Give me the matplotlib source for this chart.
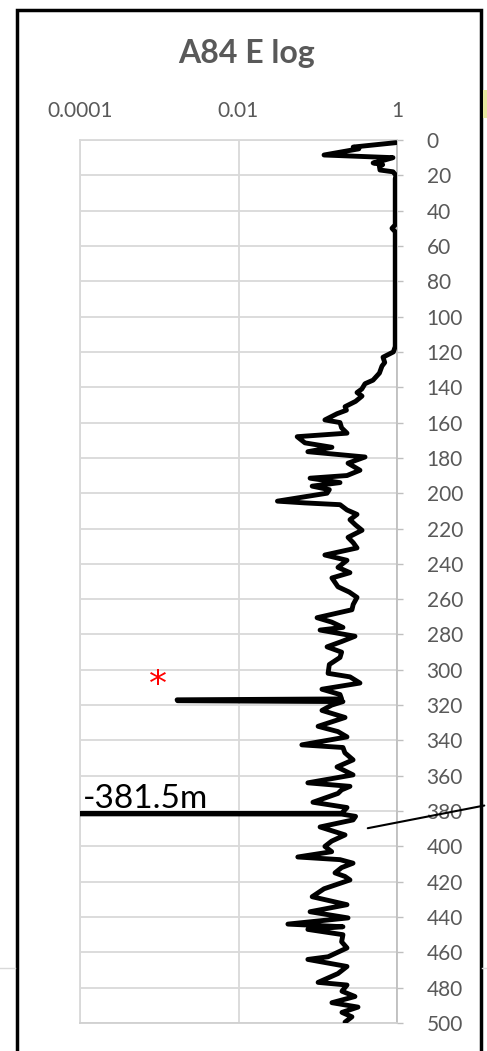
import matplotlib
matplotlib.use("Agg")
import matplotlib.pyplot as plt
from matplotlib.lines import Line2D
from matplotlib.patches import Rectangle

plt.rcParams['font.family'] = ['Lato', 'DejaVu Sans']

# E log trace, depth (m) vs value
depth = [1.5, 4, 5, 8.5, 9.5, 10, 12, 13, 14, 15, 17, 18, 20, 22,
         48, 50, 52, 117, 120, 123, 126, 128, 132, 136, 138, 141, 143, 145,
         148, 151, 153, 155, 158.5, 160, 163, 166, 168, 171.5, 174, 176.5,
         179.5, 183, 187, 190, 191.5, 194, 196, 198, 200, 204.5, 205.5, 206.5,
         209.5, 212, 215, 218, 221, 225, 228, 231, 235, 238, 242, 245, 248,
         253, 256, 259, 263, 266, 270.5, 273, 276, 277.5, 281, 284, 287, 290,
         293, 297, 302, 304, 307.5, 311, 314, 316.5, 317, 317.5, 318, 320, 323,
         327, 332, 335, 338, 342.5, 344, 347, 351, 355, 359.5, 364, 366, 368,
         370, 375, 378, 381.3, 381.5, 381.7, 383, 385, 389, 393.5, 397, 400,
         403, 406, 407.5, 409.5, 412, 415, 417, 419, 424, 428.5, 433, 437,
         440.5, 444, 445.5, 447, 450, 454, 457.5, 462.5, 464, 468, 472, 477,
         478.5, 482, 485, 488.5, 491, 494, 496.5, 499.5]
e_value = [0.97, 0.28, 0.33, 0.12, 0.45, 0.89, 0.62, 0.50, 0.66, 0.60, 0.61, 0.89, 0.97, 0.95,
           0.95, 0.865, 0.95, 0.95, 0.90, 0.666, 0.70, 0.647, 0.60, 0.498, 0.395, 0.36, 0.313, 0.362,
           0.30, 0.221, 0.23, 0.175, 0.123, 0.191, 0.20, 0.234, 0.055, 0.069, 0.151, 0.075,
           0.395, 0.241, 0.341, 0.234, 0.08, 0.191, 0.085, 0.14, 0.131, 0.031, 0.069, 0.191,
           0.234, 0.313, 0.255, 0.30, 0.362, 0.241, 0.28, 0.313, 0.123, 0.234, 0.18, 0.255, 0.151,
           0.18, 0.25, 0.313, 0.28, 0.27, 0.098, 0.15, 0.208, 0.107, 0.295, 0.20, 0.131, 0.20,
           0.191, 0.14, 0.135, 0.255, 0.341, 0.113, 0.191, 0.20, 0.00168, 0.0017, 0.208, 0.15, 0.113,
           0.221, 0.101, 0.18, 0.234, 0.063, 0.208, 0.22, 0.279, 0.175, 0.279, 0.075, 0.255, 0.20,
           0.18, 0.087, 0.234, 0.20, 0.00001, 0.20, 0.30, 0.279, 0.107, 0.221, 0.15, 0.123,
           0.15, 0.056, 0.191, 0.279, 0.20, 0.165, 0.22, 0.255, 0.12, 0.085, 0.234, 0.08,
           0.241, 0.042, 0.208, 0.075, 0.208, 0.20, 0.234, 0.135, 0.075, 0.234, 0.18, 0.101,
           0.234, 0.202, 0.295, 0.151, 0.322, 0.202, 0.27, 0.221]

x_ticks = [1e-4, 1e-2, 1]
x_tick_labels = ['0.0001', '0.01', '1']
y_ticks = list(range(0, 501, 20))

W, H = 487, 1051
fig = plt.figure(figsize=(W / 100, H / 100), dpi=100)
ax = fig.add_axes([80 / W, 1 - 1023 / H, 317 / W, 883 / H])

grid_c = '#d9d9d9'
text_c = '#595959'

ax.plot(e_value, depth, color='black', lw=3.5, solid_joinstyle='round',
        solid_capstyle='round', zorder=3)

ax.set_xscale('log')
ax.set_xlim(1e-4, 1)
ax.set_ylim(500, 0)
ax.set_xticks(x_ticks)
ax.set_xticklabels(x_tick_labels)
ax.xaxis.set_minor_locator(matplotlib.ticker.NullLocator())
ax.set_yticks(y_ticks)
ax.xaxis.tick_top()
ax.yaxis.tick_right()
ax.tick_params(axis='x', length=0, pad=14, labelsize=15, labelcolor=text_c)
ax.tick_params(axis='y', length=4.3, width=1, color='#bfbfbf', pad=17,
               labelsize=15, labelcolor=text_c)
ax.grid(True, color=grid_c, lw=1.3)
ax.set_axisbelow(True)
for side in ['left', 'top']:
    ax.spines[side].set_color(grid_c)
    ax.spines[side].set_linewidth(1.3)
ax.spines['right'].set_color('#bfbfbf')
ax.spines['bottom'].set_color('#d0d0d0')
ax.spines['right'].set_linewidth(1.3)
ax.spines['bottom'].set_linewidth(1.3)

fig.text(247 / W, 1 - 63 / H, 'A84 E log', ha='center', va='baseline',
         fontsize=23, fontweight='bold', color=text_c)

# annotations
ax.text(1.1e-4, 378.5, '-381.5m', fontsize=24, color='black', va='baseline', ha='left')
ax.text(0.00096, 314, '*', fontsize=26, color='red', va='baseline', ha='center',
        family='DejaVu Sans')
ax.annotate('', xy=(0.395, 390), xycoords='data',
            xytext=(1.0, 1 - 805 / H), textcoords='figure fraction',
            arrowprops=dict(arrowstyle='-', color='black', lw=1.5))

# chart border and surroundings
fig.add_artist(Rectangle((16.5 / W, -0.01), 464 / W, 1.01 - 9.5 / H, transform=fig.transFigure,
                         fill=False, edgecolor='black', lw=2.5))
fig.add_artist(Line2D([0, 15 / W], [1 - 968 / H] * 2, color='#d9d9d9', lw=1))
fig.add_artist(Line2D([482 / W, 1], [1 - 968 / H] * 2, color='#d9d9d9', lw=1))
fig.add_artist(Rectangle((483 / W, 1 - 118 / H), 4 / W, 28 / H, transform=fig.transFigure,
                         color='#e8e6a0', lw=0))

fig.savefig('out.png', dpi=100)
